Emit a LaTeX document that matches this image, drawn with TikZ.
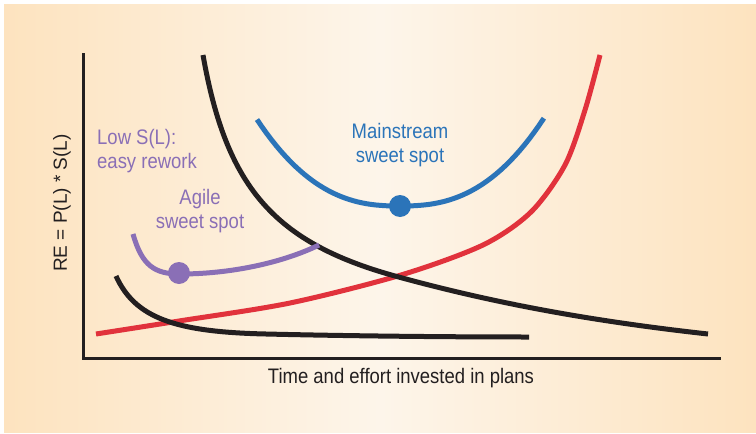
\documentclass[tikz,border=0pt]{standalone}
\usepackage{fontspec}
\setmainfont{Liberation Sans}
\newfontfamily\narrowfont{Liberation Sans}[FakeStretch=0.88]
\usetikzlibrary{positioning}
\definecolor{peach}{HTML}{FDE3BF}
\definecolor{cream}{HTML}{FDF5EA}
\definecolor{curveblack}{HTML}{231F20}
\definecolor{curvered}{HTML}{E1323C}
\definecolor{curveblue}{HTML}{2B74B9}
\definecolor{curvepurple}{HTML}{8A6FB6}

\begin{document}
\begin{tikzpicture}[x=1pt,y=-1pt,curve/.style={line width=5pt},
	spot/.style={circle,fill=#1,minimum size=22pt,inner sep=0pt},
	label text/.style={font=\narrowfont\fontsize{21}{24}\selectfont,inner sep=0pt}]
	
	\useasboundingbox (0,0) rectangle (756,434);
	\fill[white] (0,0) rectangle (756,434);
	\shade[left color=peach,right color=peach,middle color=cream] (4,4) rectangle (756,432);
	
	% axes
	\draw[line width=3pt,curveblack] (83,53) -- (83,358) -- (721,358);
	
	% curves
	\draw[curve,curvered] plot[smooth] coordinates {(96,334) (179,321) (290,303) (401,275) (483,245) (531,212) (565,165) (585,110) (600,55)};
	\draw[curve,curveblack] (203,55) .. controls (226,185) and (272,242) .. (395,276) .. controls (500,305) and (600,322) .. (708,334);
	\draw[curve,curveblack] (116,276) .. controls (135,318) and (175,332) .. (266,334) .. controls (350,336) and (450,337) .. (529,337);
	\draw[curve,curveblue] plot[domain=-0.993:1,samples=61] ({400+144*\x},{206-88*abs(\x)^2.5});
	\draw[curve,curvepurple] (133,234) .. controls (142,266) and (155,274) .. (180,274) .. controls (230,274) and (282,263) .. (319,245);
	
	\node[spot=curveblue] (mainspot) at (400,206) {};
	\node[spot=curvepurple] (agilespot) at (179,273) {};
	
	% labels
	\node[label text,text=curveblue,align=center,anchor=base] (mainstream) at (400,162) {Mainstream\\sweet spot};
	\node[label text,text=curvepurple,align=center,anchor=base] (agile) at (200,228) {Agile\\sweet spot};
	\node[label text,text=curvepurple,align=left,anchor=base west] (lowsl) at (97,168) {Low S(L):\\easy rework};
	\node[label text,text=curveblack,anchor=base] (xlabel) at (401,383) {Time and effort invested in plans};
	\node[font=\fontsize{19}{22}\selectfont,text=curveblack,rotate=90,inner sep=0pt] (ylabel) at (62,203) {RE = P(L) * S(L)};
	
\end{tikzpicture}
\end{document}
